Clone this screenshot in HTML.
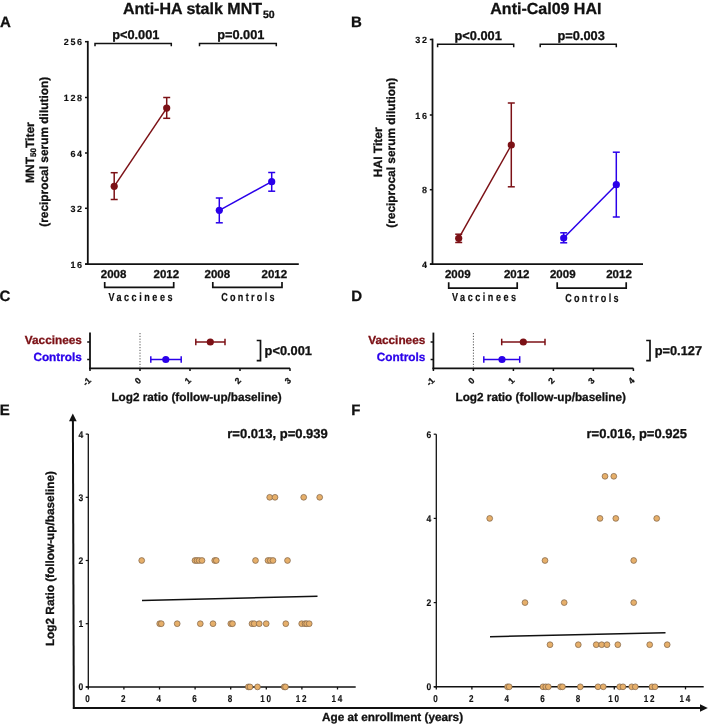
<!DOCTYPE html>
<html><head><meta charset="utf-8"><title>Figure</title>
<style>
html,body{margin:0;padding:0;background:#fff;}
body{width:708px;height:726px;overflow:hidden;}
svg{display:block;filter:blur(0.3px);font-family:"Liberation Sans",sans-serif;text-rendering:geometricPrecision;}
</style></head>
<body>
<svg width="708" height="726" viewBox="0 0 708 726">
<rect width="708" height="726" fill="#fff"/>
<text x="0.0" y="26.6" font-size="15.0" text-anchor="start" fill="#111" stroke="#111" stroke-width="0.3" font-weight="bold" >A</text>
<text x="351.0" y="26.9" font-size="15.0" text-anchor="start" fill="#111" stroke="#111" stroke-width="0.3" font-weight="bold" >B</text>
<text x="-0.4" y="301.4" font-size="15.0" text-anchor="start" fill="#111" stroke="#111" stroke-width="0.3" font-weight="bold" >C</text>
<text x="351.2" y="301.0" font-size="15.0" text-anchor="start" fill="#111" stroke="#111" stroke-width="0.3" font-weight="bold" >D</text>
<text x="-0.2" y="414.9" font-size="15.0" text-anchor="start" fill="#111" stroke="#111" stroke-width="0.3" font-weight="bold" >E</text>
<text x="351.2" y="415.1" font-size="15.0" text-anchor="start" fill="#111" stroke="#111" stroke-width="0.3" font-weight="bold" >F</text>
<text x="123" y="13.5" font-size="16" font-weight="bold" fill="#111" stroke="#111" stroke-width="0.3">Anti-HA stalk MNT<tspan font-size="10.5" dx="1" dy="4">50</tspan></text>
<text transform="translate(33.6,152.6) rotate(-90)" text-anchor="middle" font-size="12" font-weight="bold" fill="#111" stroke="#111" stroke-width="0.3">MNT<tspan font-size="8" dy="2.5">50</tspan><tspan dy="-2.5">Titer</tspan></text>
<text transform="translate(47.6,151.8) rotate(-90)" text-anchor="middle" font-size="11.9" font-weight="bold" fill="#111" stroke="#111" stroke-width="0.3">(reciprocal serum dilution)</text>
<line x1="87.8" y1="40.9" x2="87.8" y2="265" stroke="#111" stroke-width="1.8" />
<line x1="85.2" y1="264.1" x2="298.8" y2="264.1" stroke="#111" stroke-width="1.8" />
<line x1="85.0" y1="41.7" x2="87.8" y2="41.7" stroke="#111" stroke-width="1.5" />
<text x="83.69999999999999" y="45.2" font-size="9.0" text-anchor="end" fill="#111" stroke="#111" stroke-width="0.15" font-weight="bold" letter-spacing="1.6" >256</text>
<line x1="85.0" y1="97.5" x2="87.8" y2="97.5" stroke="#111" stroke-width="1.5" />
<text x="83.69999999999999" y="101.0" font-size="9.0" text-anchor="end" fill="#111" stroke="#111" stroke-width="0.15" font-weight="bold" letter-spacing="1.6" >128</text>
<line x1="85.0" y1="153" x2="87.8" y2="153" stroke="#111" stroke-width="1.5" />
<text x="83.69999999999999" y="156.5" font-size="9.0" text-anchor="end" fill="#111" stroke="#111" stroke-width="0.15" font-weight="bold" letter-spacing="1.6" >64</text>
<line x1="85.0" y1="208.3" x2="87.8" y2="208.3" stroke="#111" stroke-width="1.5" />
<text x="83.69999999999999" y="211.8" font-size="9.0" text-anchor="end" fill="#111" stroke="#111" stroke-width="0.15" font-weight="bold" letter-spacing="1.6" >32</text>
<line x1="85.0" y1="264.1" x2="87.8" y2="264.1" stroke="#111" stroke-width="1.5" />
<text x="83.69999999999999" y="267.6" font-size="9.0" text-anchor="end" fill="#111" stroke="#111" stroke-width="0.15" font-weight="bold" letter-spacing="1.6" >16</text>
<polyline points="95,46.3 95,43.4 171.3,43.4 171.3,46.3" fill="none" stroke="#111" stroke-width="1.5"/>
<polyline points="199.5,46.3 199.5,43.4 276.3,43.4 276.3,46.3" fill="none" stroke="#111" stroke-width="1.5"/>
<text x="135.8" y="38.6" font-size="12.8" text-anchor="middle" fill="#111" stroke="#111" stroke-width="0.3" font-weight="bold" >p&lt;0.001</text>
<text x="240.8" y="38.6" font-size="12.8" text-anchor="middle" fill="#111" stroke="#111" stroke-width="0.3" font-weight="bold" >p=0.001</text>
<line x1="114.2" y1="186.3" x2="166.7" y2="108.1" stroke="#7c1116" stroke-width="1.5" />
<line x1="114.2" y1="172.7" x2="114.2" y2="199.5" stroke="#7c1116" stroke-width="1.5" />
<line x1="110.7" y1="172.7" x2="117.7" y2="172.7" stroke="#7c1116" stroke-width="1.5" />
<line x1="110.7" y1="199.5" x2="117.7" y2="199.5" stroke="#7c1116" stroke-width="1.5" />
<line x1="166.7" y1="97.5" x2="166.7" y2="118.3" stroke="#7c1116" stroke-width="1.5" />
<line x1="163.2" y1="97.5" x2="170.2" y2="97.5" stroke="#7c1116" stroke-width="1.5" />
<line x1="163.2" y1="118.3" x2="170.2" y2="118.3" stroke="#7c1116" stroke-width="1.5" />
<circle cx="114.2" cy="186.3" r="3.6" fill="#7c1116"/>
<circle cx="166.7" cy="108.1" r="3.6" fill="#7c1116"/>
<line x1="219.3" y1="210.3" x2="271.7" y2="181.7" stroke="#2a00ea" stroke-width="1.5" />
<line x1="219.3" y1="198" x2="219.3" y2="222.8" stroke="#2a00ea" stroke-width="1.5" />
<line x1="215.8" y1="198" x2="222.8" y2="198" stroke="#2a00ea" stroke-width="1.5" />
<line x1="215.8" y1="222.8" x2="222.8" y2="222.8" stroke="#2a00ea" stroke-width="1.5" />
<line x1="271.7" y1="172.5" x2="271.7" y2="191.2" stroke="#2a00ea" stroke-width="1.5" />
<line x1="268.2" y1="172.5" x2="275.2" y2="172.5" stroke="#2a00ea" stroke-width="1.5" />
<line x1="268.2" y1="191.2" x2="275.2" y2="191.2" stroke="#2a00ea" stroke-width="1.5" />
<circle cx="219.3" cy="210.3" r="3.6" fill="#2a00ea"/>
<circle cx="271.7" cy="181.7" r="3.6" fill="#2a00ea"/>
<text x="113.6" y="277.9" font-size="11.5" text-anchor="middle" fill="#111" stroke="#111" stroke-width="0.3" font-weight="bold" >2008</text>
<text x="166.3" y="277.9" font-size="11.5" text-anchor="middle" fill="#111" stroke="#111" stroke-width="0.3" font-weight="bold" >2012</text>
<text x="217.3" y="277.9" font-size="11.5" text-anchor="middle" fill="#111" stroke="#111" stroke-width="0.3" font-weight="bold" >2008</text>
<text x="274.3" y="277.9" font-size="11.5" text-anchor="middle" fill="#111" stroke="#111" stroke-width="0.3" font-weight="bold" >2012</text>
<polyline points="104.7,282.0 104.7,287.3 173.7,287.3 173.7,282.0" fill="none" stroke="#111" stroke-width="1.7"/>
<polyline points="212.8,282.0 212.8,287.3 282,287.3 282,282.0" fill="none" stroke="#111" stroke-width="1.7"/>
<text transform="translate(108.4,300.7) scale(0.78,1)" text-anchor="start" font-size="11.6" fill="#111" stroke="#111" stroke-width="0.2" font-weight="bold" letter-spacing="3.26">Vaccinees</text>
<text transform="translate(221.2,300.8) scale(0.78,1)" text-anchor="start" font-size="11.6" fill="#111" stroke="#111" stroke-width="0.2" font-weight="bold" letter-spacing="2.96">Controls</text>
<text x="490.3" y="14.0" font-size="16" text-anchor="start" fill="#111" stroke="#111" stroke-width="0.3" font-weight="bold" >Anti-Cal09 HAI</text>
<text transform="translate(381.6,152.3) rotate(-90)" text-anchor="middle" font-size="12" font-weight="bold" fill="#111" stroke="#111" stroke-width="0.3">HAI Titer</text>
<text transform="translate(395.2,152.8) rotate(-90)" text-anchor="middle" font-size="11.9" font-weight="bold" fill="#111" stroke="#111" stroke-width="0.3">(reciprocal serum dilution)</text>
<line x1="432.5" y1="38.6" x2="432.5" y2="265" stroke="#111" stroke-width="1.8" />
<line x1="430" y1="264.2" x2="643" y2="264.2" stroke="#111" stroke-width="1.8" />
<line x1="429.8" y1="39.5" x2="432.5" y2="39.5" stroke="#111" stroke-width="1.5" />
<text x="428.5" y="43.0" font-size="9.0" text-anchor="end" fill="#111" stroke="#111" stroke-width="0.15" font-weight="bold" letter-spacing="1.6" >32</text>
<line x1="429.8" y1="115" x2="432.5" y2="115" stroke="#111" stroke-width="1.5" />
<text x="428.5" y="118.5" font-size="9.0" text-anchor="end" fill="#111" stroke="#111" stroke-width="0.15" font-weight="bold" letter-spacing="1.6" >16</text>
<line x1="429.8" y1="189.7" x2="432.5" y2="189.7" stroke="#111" stroke-width="1.5" />
<text x="428.5" y="193.2" font-size="9.0" text-anchor="end" fill="#111" stroke="#111" stroke-width="0.15" font-weight="bold" letter-spacing="1.6" >8</text>
<line x1="429.8" y1="264.2" x2="432.5" y2="264.2" stroke="#111" stroke-width="1.5" />
<text x="428.5" y="267.7" font-size="9.0" text-anchor="end" fill="#111" stroke="#111" stroke-width="0.15" font-weight="bold" letter-spacing="1.6" >4</text>
<polyline points="437.6,47.199999999999996 437.6,44.3 513.7,44.3 513.7,47.199999999999996" fill="none" stroke="#111" stroke-width="1.5"/>
<polyline points="540.2,47.199999999999996 540.2,44.3 616.3,44.3 616.3,47.199999999999996" fill="none" stroke="#111" stroke-width="1.5"/>
<text x="478.2" y="39.6" font-size="12.8" text-anchor="middle" fill="#111" stroke="#111" stroke-width="0.3" font-weight="bold" >p&lt;0.001</text>
<text x="581.2" y="39.6" font-size="12.8" text-anchor="middle" fill="#111" stroke="#111" stroke-width="0.3" font-weight="bold" >p=0.003</text>
<line x1="458.7" y1="238.3" x2="511.3" y2="145" stroke="#7c1116" stroke-width="1.5" />
<line x1="458.7" y1="234.2" x2="458.7" y2="242.5" stroke="#7c1116" stroke-width="1.5" />
<line x1="455.2" y1="234.2" x2="462.2" y2="234.2" stroke="#7c1116" stroke-width="1.5" />
<line x1="455.2" y1="242.5" x2="462.2" y2="242.5" stroke="#7c1116" stroke-width="1.5" />
<line x1="511.3" y1="103" x2="511.3" y2="186.8" stroke="#7c1116" stroke-width="1.5" />
<line x1="507.8" y1="103" x2="514.8" y2="103" stroke="#7c1116" stroke-width="1.5" />
<line x1="507.8" y1="186.8" x2="514.8" y2="186.8" stroke="#7c1116" stroke-width="1.5" />
<circle cx="458.7" cy="238.3" r="3.6" fill="#7c1116"/>
<circle cx="511.3" cy="145" r="3.6" fill="#7c1116"/>
<line x1="563.7" y1="238" x2="616.3" y2="184.7" stroke="#2a00ea" stroke-width="1.5" />
<line x1="563.7" y1="232.8" x2="563.7" y2="242.8" stroke="#2a00ea" stroke-width="1.5" />
<line x1="560.2" y1="232.8" x2="567.2" y2="232.8" stroke="#2a00ea" stroke-width="1.5" />
<line x1="560.2" y1="242.8" x2="567.2" y2="242.8" stroke="#2a00ea" stroke-width="1.5" />
<line x1="616.3" y1="152.2" x2="616.3" y2="217" stroke="#2a00ea" stroke-width="1.5" />
<line x1="612.8" y1="152.2" x2="619.8" y2="152.2" stroke="#2a00ea" stroke-width="1.5" />
<line x1="612.8" y1="217" x2="619.8" y2="217" stroke="#2a00ea" stroke-width="1.5" />
<circle cx="563.7" cy="238" r="3.6" fill="#2a00ea"/>
<circle cx="616.3" cy="184.7" r="3.6" fill="#2a00ea"/>
<text x="457.75" y="278.1" font-size="11.5" text-anchor="middle" fill="#111" stroke="#111" stroke-width="0.3" font-weight="bold" >2009</text>
<text x="516.7" y="278.1" font-size="11.5" text-anchor="middle" fill="#111" stroke="#111" stroke-width="0.3" font-weight="bold" >2012</text>
<text x="562.75" y="278.1" font-size="11.5" text-anchor="middle" fill="#111" stroke="#111" stroke-width="0.3" font-weight="bold" >2009</text>
<text x="619" y="278.1" font-size="11.5" text-anchor="middle" fill="#111" stroke="#111" stroke-width="0.3" font-weight="bold" >2012</text>
<polyline points="448.7,282.2 448.7,288.2 517.2,288.2 517.2,282.2" fill="none" stroke="#111" stroke-width="1.7"/>
<polyline points="557.2,282.2 557.2,288.2 626.2,288.2 626.2,282.2" fill="none" stroke="#111" stroke-width="1.7"/>
<text transform="translate(452.0,301.2) scale(0.78,1)" text-anchor="start" font-size="11.6" fill="#111" stroke="#111" stroke-width="0.2" font-weight="bold" letter-spacing="3.26">Vaccinees</text>
<text transform="translate(565.2,301.5) scale(0.78,1)" text-anchor="start" font-size="11.6" fill="#111" stroke="#111" stroke-width="0.2" font-weight="bold" letter-spacing="2.96">Controls</text>
<line x1="90" y1="332.6" x2="90" y2="369.2" stroke="#111" stroke-width="1.8" />
<line x1="89.1" y1="368.3" x2="290" y2="368.3" stroke="#111" stroke-width="1.8" />
<line x1="90" y1="368.3" x2="90" y2="371" stroke="#111" stroke-width="1.5" />
<text transform="translate(91.7,381) rotate(-45)" text-anchor="end" font-size="8.6" font-weight="bold" fill="#111" stroke="#111" stroke-width="0.3">-1</text>
<line x1="140" y1="368.3" x2="140" y2="371" stroke="#111" stroke-width="1.5" />
<text transform="translate(141.7,381) rotate(-45)" text-anchor="end" font-size="8.6" font-weight="bold" fill="#111" stroke="#111" stroke-width="0.3">0</text>
<line x1="190" y1="368.3" x2="190" y2="371" stroke="#111" stroke-width="1.5" />
<text transform="translate(191.7,381) rotate(-45)" text-anchor="end" font-size="8.6" font-weight="bold" fill="#111" stroke="#111" stroke-width="0.3">1</text>
<line x1="240" y1="368.3" x2="240" y2="371" stroke="#111" stroke-width="1.5" />
<text transform="translate(241.7,381) rotate(-45)" text-anchor="end" font-size="8.6" font-weight="bold" fill="#111" stroke="#111" stroke-width="0.3">2</text>
<line x1="290" y1="368.3" x2="290" y2="371" stroke="#111" stroke-width="1.5" />
<text transform="translate(291.7,381) rotate(-45)" text-anchor="end" font-size="8.6" font-weight="bold" fill="#111" stroke="#111" stroke-width="0.3">3</text>
<line x1="87.2" y1="342" x2="90" y2="342" stroke="#111" stroke-width="1.5" />
<line x1="87.2" y1="359.5" x2="90" y2="359.5" stroke="#111" stroke-width="1.5" />
<line x1="140" y1="333" x2="140" y2="367.4" stroke="#555" stroke-width="1" stroke-dasharray="1.2,1.6"/>
<text x="81.9" y="343.6" font-size="11.8" text-anchor="end" fill="#7c1116" stroke="#7c1116" stroke-width="0.3" font-weight="bold" >Vaccinees</text>
<text x="81.9" y="361.1" font-size="11.8" text-anchor="end" fill="#2a00ea" stroke="#2a00ea" stroke-width="0.3" font-weight="bold" >Controls</text>
<line x1="195.8" y1="342" x2="225" y2="342" stroke="#7c1116" stroke-width="1.5" />
<line x1="195.8" y1="338.7" x2="195.8" y2="345.3" stroke="#7c1116" stroke-width="1.5" />
<line x1="225" y1="338.7" x2="225" y2="345.3" stroke="#7c1116" stroke-width="1.5" />
<circle cx="210.3" cy="342" r="3.6" fill="#7c1116"/>
<line x1="150.8" y1="359.5" x2="181.2" y2="359.5" stroke="#2a00ea" stroke-width="1.5" />
<line x1="150.8" y1="356.2" x2="150.8" y2="362.8" stroke="#2a00ea" stroke-width="1.5" />
<line x1="181.2" y1="356.2" x2="181.2" y2="362.8" stroke="#2a00ea" stroke-width="1.5" />
<circle cx="165.8" cy="359.5" r="3.6" fill="#2a00ea"/>
<polyline points="256.7,340.5 260.5,340.5 260.5,360.6 256.7,360.6" fill="none" stroke="#111" stroke-width="1.7"/>
<text x="264.6" y="355" font-size="12.8" text-anchor="start" fill="#111" stroke="#111" stroke-width="0.3" font-weight="bold" >p&lt;0.001</text>
<text x="111.4" y="400.8" font-size="11.75" text-anchor="start" fill="#111" stroke="#111" stroke-width="0.3" font-weight="bold" >Log2 ratio (follow-up/baseline)</text>
<line x1="433.4" y1="332.6" x2="433.4" y2="369.2" stroke="#111" stroke-width="1.8" />
<line x1="432.5" y1="368.3" x2="633.4" y2="368.3" stroke="#111" stroke-width="1.8" />
<line x1="433.4" y1="368.3" x2="433.4" y2="371" stroke="#111" stroke-width="1.5" />
<text transform="translate(435.09999999999997,381) rotate(-45)" text-anchor="end" font-size="8.6" font-weight="bold" fill="#111" stroke="#111" stroke-width="0.3">-1</text>
<line x1="473.4" y1="368.3" x2="473.4" y2="371" stroke="#111" stroke-width="1.5" />
<text transform="translate(475.09999999999997,381) rotate(-45)" text-anchor="end" font-size="8.6" font-weight="bold" fill="#111" stroke="#111" stroke-width="0.3">0</text>
<line x1="513.4" y1="368.3" x2="513.4" y2="371" stroke="#111" stroke-width="1.5" />
<text transform="translate(515.1,381) rotate(-45)" text-anchor="end" font-size="8.6" font-weight="bold" fill="#111" stroke="#111" stroke-width="0.3">1</text>
<line x1="553.4" y1="368.3" x2="553.4" y2="371" stroke="#111" stroke-width="1.5" />
<text transform="translate(555.1,381) rotate(-45)" text-anchor="end" font-size="8.6" font-weight="bold" fill="#111" stroke="#111" stroke-width="0.3">2</text>
<line x1="593.4" y1="368.3" x2="593.4" y2="371" stroke="#111" stroke-width="1.5" />
<text transform="translate(595.1,381) rotate(-45)" text-anchor="end" font-size="8.6" font-weight="bold" fill="#111" stroke="#111" stroke-width="0.3">3</text>
<line x1="633.4" y1="368.3" x2="633.4" y2="371" stroke="#111" stroke-width="1.5" />
<text transform="translate(635.1,381) rotate(-45)" text-anchor="end" font-size="8.6" font-weight="bold" fill="#111" stroke="#111" stroke-width="0.3">4</text>
<line x1="430.59999999999997" y1="342" x2="433.4" y2="342" stroke="#111" stroke-width="1.5" />
<line x1="430.59999999999997" y1="359.5" x2="433.4" y2="359.5" stroke="#111" stroke-width="1.5" />
<line x1="473.4" y1="333" x2="473.4" y2="367.4" stroke="#555" stroke-width="1" stroke-dasharray="1.2,1.6"/>
<text x="425.3" y="343.6" font-size="11.8" text-anchor="end" fill="#7c1116" stroke="#7c1116" stroke-width="0.3" font-weight="bold" >Vaccinees</text>
<text x="425.3" y="361.1" font-size="11.8" text-anchor="end" fill="#2a00ea" stroke="#2a00ea" stroke-width="0.3" font-weight="bold" >Controls</text>
<line x1="501.7" y1="342" x2="545" y2="342" stroke="#7c1116" stroke-width="1.5" />
<line x1="501.7" y1="338.7" x2="501.7" y2="345.3" stroke="#7c1116" stroke-width="1.5" />
<line x1="545" y1="338.7" x2="545" y2="345.3" stroke="#7c1116" stroke-width="1.5" />
<circle cx="523.3" cy="342" r="3.6" fill="#7c1116"/>
<line x1="483.8" y1="359.5" x2="519.7" y2="359.5" stroke="#2a00ea" stroke-width="1.5" />
<line x1="483.8" y1="356.2" x2="483.8" y2="362.8" stroke="#2a00ea" stroke-width="1.5" />
<line x1="519.7" y1="356.2" x2="519.7" y2="362.8" stroke="#2a00ea" stroke-width="1.5" />
<circle cx="502" cy="359.5" r="3.6" fill="#2a00ea"/>
<polyline points="646.2,340.5 650,340.5 650,360.6 646.2,360.6" fill="none" stroke="#111" stroke-width="1.7"/>
<text x="654.7" y="355" font-size="12.8" text-anchor="start" fill="#111" stroke="#111" stroke-width="0.3" font-weight="bold" >p=0.127</text>
<text x="455.5" y="400.8" font-size="11.75" text-anchor="start" fill="#111" stroke="#111" stroke-width="0.3" font-weight="bold" >Log2 ratio (follow-up/baseline)</text>
<line x1="73.8" y1="708.9" x2="72.9" y2="420" stroke="#111" stroke-width="2" />
<polygon points="72.8,413.6 69.0,421.2 76.7,421.2" fill="#111"/>
<line x1="72.9" y1="708" x2="701" y2="708" stroke="#111" stroke-width="2" />
<polygon points="707.8,708 700,704.3 700,711.8" fill="#111"/>
<text x="322" y="721.3" font-size="11.75" text-anchor="start" fill="#111" stroke="#111" stroke-width="0.3" font-weight="bold" >Age at enrollment (years)</text>
<text transform="translate(54.4,558.6) rotate(-90)" text-anchor="middle" font-size="11.8" font-weight="bold" fill="#111" stroke="#111" stroke-width="0.3">Log2 Ratio (follow-up/baseline)</text>
<line x1="88.3" y1="434.09999999999997" x2="88.3" y2="687.5" stroke="#111" stroke-width="1.3" />
<line x1="85.8" y1="686.9" x2="355.7" y2="686.9" stroke="#111" stroke-width="1.5" />
<line x1="85.7" y1="686.9" x2="88.3" y2="686.9" stroke="#111" stroke-width="1.2" />
<text transform="translate(83.15,690.4) scale(0.89,1)" text-anchor="end" font-size="9.6" fill="#111" stroke="#111" stroke-width="0.15" font-weight="bold" letter-spacing="0">0</text>
<line x1="85.7" y1="623.6999999999999" x2="88.3" y2="623.6999999999999" stroke="#111" stroke-width="1.2" />
<text transform="translate(83.15,627.2) scale(0.89,1)" text-anchor="end" font-size="9.6" fill="#111" stroke="#111" stroke-width="0.15" font-weight="bold" letter-spacing="0">1</text>
<line x1="85.7" y1="560.5" x2="88.3" y2="560.5" stroke="#111" stroke-width="1.2" />
<text transform="translate(83.15,564.0) scale(0.89,1)" text-anchor="end" font-size="9.6" fill="#111" stroke="#111" stroke-width="0.15" font-weight="bold" letter-spacing="0">2</text>
<line x1="85.7" y1="497.29999999999995" x2="88.3" y2="497.29999999999995" stroke="#111" stroke-width="1.2" />
<text transform="translate(83.15,500.8) scale(0.89,1)" text-anchor="end" font-size="9.6" fill="#111" stroke="#111" stroke-width="0.15" font-weight="bold" letter-spacing="0">3</text>
<line x1="85.7" y1="434.09999999999997" x2="88.3" y2="434.09999999999997" stroke="#111" stroke-width="1.2" />
<text transform="translate(83.15,437.6) scale(0.89,1)" text-anchor="end" font-size="9.6" fill="#111" stroke="#111" stroke-width="0.15" font-weight="bold" letter-spacing="0">4</text>
<line x1="88.3" y1="686.9" x2="88.3" y2="689.5" stroke="#111" stroke-width="1.3" />
<text transform="translate(88.49,702.3) scale(0.81,1)" text-anchor="middle" font-size="10.0" fill="#111" stroke="#111" stroke-width="0.15" font-weight="bold" letter-spacing="2.2">0</text>
<line x1="123.9" y1="686.9" x2="123.9" y2="689.5" stroke="#111" stroke-width="1.3" />
<text transform="translate(124.09,702.3) scale(0.81,1)" text-anchor="middle" font-size="10.0" fill="#111" stroke="#111" stroke-width="0.15" font-weight="bold" letter-spacing="2.2">2</text>
<line x1="159.5" y1="686.9" x2="159.5" y2="689.5" stroke="#111" stroke-width="1.3" />
<text transform="translate(159.69,702.3) scale(0.81,1)" text-anchor="middle" font-size="10.0" fill="#111" stroke="#111" stroke-width="0.15" font-weight="bold" letter-spacing="2.2">4</text>
<line x1="195.10000000000002" y1="686.9" x2="195.10000000000002" y2="689.5" stroke="#111" stroke-width="1.3" />
<text transform="translate(195.29,702.3) scale(0.81,1)" text-anchor="middle" font-size="10.0" fill="#111" stroke="#111" stroke-width="0.15" font-weight="bold" letter-spacing="2.2">6</text>
<line x1="230.7" y1="686.9" x2="230.7" y2="689.5" stroke="#111" stroke-width="1.3" />
<text transform="translate(230.89,702.3) scale(0.81,1)" text-anchor="middle" font-size="10.0" fill="#111" stroke="#111" stroke-width="0.15" font-weight="bold" letter-spacing="2.2">8</text>
<line x1="266.3" y1="686.9" x2="266.3" y2="689.5" stroke="#111" stroke-width="1.3" />
<text transform="translate(266.49,702.3) scale(0.81,1)" text-anchor="middle" font-size="10.0" fill="#111" stroke="#111" stroke-width="0.15" font-weight="bold" letter-spacing="2.2">10</text>
<line x1="301.90000000000003" y1="686.9" x2="301.90000000000003" y2="689.5" stroke="#111" stroke-width="1.3" />
<text transform="translate(302.09,702.3) scale(0.81,1)" text-anchor="middle" font-size="10.0" fill="#111" stroke="#111" stroke-width="0.15" font-weight="bold" letter-spacing="2.2">12</text>
<line x1="337.5" y1="686.9" x2="337.5" y2="689.5" stroke="#111" stroke-width="1.3" />
<text transform="translate(337.69,702.3) scale(0.81,1)" text-anchor="middle" font-size="10.0" fill="#111" stroke="#111" stroke-width="0.15" font-weight="bold" letter-spacing="2.2">14</text>
<line x1="142" y1="600.5" x2="317.5" y2="596.2" stroke="#111" stroke-width="1.4" />
<circle cx="269.7" cy="497.29999999999995" r="2.9" fill="#e6af6a" stroke="#7d6247" stroke-width="0.7"/>
<circle cx="275" cy="497.29999999999995" r="2.9" fill="#e6af6a" stroke="#7d6247" stroke-width="0.7"/>
<circle cx="303.7" cy="497.29999999999995" r="2.9" fill="#e6af6a" stroke="#7d6247" stroke-width="0.7"/>
<circle cx="319.7" cy="497.29999999999995" r="2.9" fill="#e6af6a" stroke="#7d6247" stroke-width="0.7"/>
<circle cx="141.7" cy="560.5" r="2.9" fill="#e6af6a" stroke="#7d6247" stroke-width="0.7"/>
<circle cx="195" cy="560.5" r="2.9" fill="#e6af6a" stroke="#7d6247" stroke-width="0.7"/>
<circle cx="197" cy="560.5" r="2.9" fill="#e6af6a" stroke="#7d6247" stroke-width="0.7"/>
<circle cx="199.2" cy="560.5" r="2.9" fill="#e6af6a" stroke="#7d6247" stroke-width="0.7"/>
<circle cx="202" cy="560.5" r="2.9" fill="#e6af6a" stroke="#7d6247" stroke-width="0.7"/>
<circle cx="214.7" cy="560.5" r="2.9" fill="#e6af6a" stroke="#7d6247" stroke-width="0.7"/>
<circle cx="216.3" cy="560.5" r="2.9" fill="#e6af6a" stroke="#7d6247" stroke-width="0.7"/>
<circle cx="255.5" cy="560.5" r="2.9" fill="#e6af6a" stroke="#7d6247" stroke-width="0.7"/>
<circle cx="268" cy="560.5" r="2.9" fill="#e6af6a" stroke="#7d6247" stroke-width="0.7"/>
<circle cx="270.3" cy="560.5" r="2.9" fill="#e6af6a" stroke="#7d6247" stroke-width="0.7"/>
<circle cx="273" cy="560.5" r="2.9" fill="#e6af6a" stroke="#7d6247" stroke-width="0.7"/>
<circle cx="287.5" cy="560.5" r="2.9" fill="#e6af6a" stroke="#7d6247" stroke-width="0.7"/>
<circle cx="159.7" cy="623.6999999999999" r="2.9" fill="#e6af6a" stroke="#7d6247" stroke-width="0.7"/>
<circle cx="161.3" cy="623.6999999999999" r="2.9" fill="#e6af6a" stroke="#7d6247" stroke-width="0.7"/>
<circle cx="177.2" cy="623.6999999999999" r="2.9" fill="#e6af6a" stroke="#7d6247" stroke-width="0.7"/>
<circle cx="200.3" cy="623.6999999999999" r="2.9" fill="#e6af6a" stroke="#7d6247" stroke-width="0.7"/>
<circle cx="213" cy="623.6999999999999" r="2.9" fill="#e6af6a" stroke="#7d6247" stroke-width="0.7"/>
<circle cx="230.8" cy="623.6999999999999" r="2.9" fill="#e6af6a" stroke="#7d6247" stroke-width="0.7"/>
<circle cx="232.5" cy="623.6999999999999" r="2.9" fill="#e6af6a" stroke="#7d6247" stroke-width="0.7"/>
<circle cx="252" cy="623.6999999999999" r="2.9" fill="#e6af6a" stroke="#7d6247" stroke-width="0.7"/>
<circle cx="254.2" cy="623.6999999999999" r="2.9" fill="#e6af6a" stroke="#7d6247" stroke-width="0.7"/>
<circle cx="259.2" cy="623.6999999999999" r="2.9" fill="#e6af6a" stroke="#7d6247" stroke-width="0.7"/>
<circle cx="266.2" cy="623.6999999999999" r="2.9" fill="#e6af6a" stroke="#7d6247" stroke-width="0.7"/>
<circle cx="285.8" cy="623.6999999999999" r="2.9" fill="#e6af6a" stroke="#7d6247" stroke-width="0.7"/>
<circle cx="301.7" cy="623.6999999999999" r="2.9" fill="#e6af6a" stroke="#7d6247" stroke-width="0.7"/>
<circle cx="305" cy="623.6999999999999" r="2.9" fill="#e6af6a" stroke="#7d6247" stroke-width="0.7"/>
<circle cx="306.7" cy="623.6999999999999" r="2.9" fill="#e6af6a" stroke="#7d6247" stroke-width="0.7"/>
<circle cx="309.2" cy="623.6999999999999" r="2.9" fill="#e6af6a" stroke="#7d6247" stroke-width="0.7"/>
<circle cx="248.3" cy="686.9" r="2.9" fill="#e6af6a" stroke="#7d6247" stroke-width="0.7"/>
<circle cx="250" cy="686.9" r="2.9" fill="#e6af6a" stroke="#7d6247" stroke-width="0.7"/>
<circle cx="257.5" cy="686.9" r="2.9" fill="#e6af6a" stroke="#7d6247" stroke-width="0.7"/>
<circle cx="284.2" cy="686.9" r="2.9" fill="#e6af6a" stroke="#7d6247" stroke-width="0.7"/>
<circle cx="285.5" cy="686.9" r="2.9" fill="#e6af6a" stroke="#7d6247" stroke-width="0.7"/>
<text x="227.3" y="438.3" font-size="13" text-anchor="start" fill="#111" stroke="#111" stroke-width="0.3" font-weight="bold" >r=0.013, p=0.939</text>
<line x1="436.3" y1="434.19999999999993" x2="436.3" y2="687.4" stroke="#111" stroke-width="1.3" />
<line x1="433.8" y1="686.8" x2="703.7" y2="686.8" stroke="#111" stroke-width="1.5" />
<line x1="433.7" y1="686.8" x2="436.3" y2="686.8" stroke="#111" stroke-width="1.2" />
<text transform="translate(431.15,690.3) scale(0.89,1)" text-anchor="end" font-size="9.6" fill="#111" stroke="#111" stroke-width="0.15" font-weight="bold" letter-spacing="0">0</text>
<line x1="433.7" y1="602.5999999999999" x2="436.3" y2="602.5999999999999" stroke="#111" stroke-width="1.2" />
<text transform="translate(431.15,606.1) scale(0.89,1)" text-anchor="end" font-size="9.6" fill="#111" stroke="#111" stroke-width="0.15" font-weight="bold" letter-spacing="0">2</text>
<line x1="433.7" y1="518.4" x2="436.3" y2="518.4" stroke="#111" stroke-width="1.2" />
<text transform="translate(431.15,521.9) scale(0.89,1)" text-anchor="end" font-size="9.6" fill="#111" stroke="#111" stroke-width="0.15" font-weight="bold" letter-spacing="0">4</text>
<line x1="433.7" y1="434.19999999999993" x2="436.3" y2="434.19999999999993" stroke="#111" stroke-width="1.2" />
<text transform="translate(431.15,437.7) scale(0.89,1)" text-anchor="end" font-size="9.6" fill="#111" stroke="#111" stroke-width="0.15" font-weight="bold" letter-spacing="0">6</text>
<line x1="436.3" y1="686.8" x2="436.3" y2="689.4" stroke="#111" stroke-width="1.3" />
<text transform="translate(436.49,702.3) scale(0.81,1)" text-anchor="middle" font-size="10.0" fill="#111" stroke="#111" stroke-width="0.15" font-weight="bold" letter-spacing="2.2">0</text>
<line x1="471.90000000000003" y1="686.8" x2="471.90000000000003" y2="689.4" stroke="#111" stroke-width="1.3" />
<text transform="translate(472.09,702.3) scale(0.81,1)" text-anchor="middle" font-size="10.0" fill="#111" stroke="#111" stroke-width="0.15" font-weight="bold" letter-spacing="2.2">2</text>
<line x1="507.5" y1="686.8" x2="507.5" y2="689.4" stroke="#111" stroke-width="1.3" />
<text transform="translate(507.69,702.3) scale(0.81,1)" text-anchor="middle" font-size="10.0" fill="#111" stroke="#111" stroke-width="0.15" font-weight="bold" letter-spacing="2.2">4</text>
<line x1="543.1" y1="686.8" x2="543.1" y2="689.4" stroke="#111" stroke-width="1.3" />
<text transform="translate(543.29,702.3) scale(0.81,1)" text-anchor="middle" font-size="10.0" fill="#111" stroke="#111" stroke-width="0.15" font-weight="bold" letter-spacing="2.2">6</text>
<line x1="578.7" y1="686.8" x2="578.7" y2="689.4" stroke="#111" stroke-width="1.3" />
<text transform="translate(578.89,702.3) scale(0.81,1)" text-anchor="middle" font-size="10.0" fill="#111" stroke="#111" stroke-width="0.15" font-weight="bold" letter-spacing="2.2">8</text>
<line x1="614.3" y1="686.8" x2="614.3" y2="689.4" stroke="#111" stroke-width="1.3" />
<text transform="translate(614.49,702.3) scale(0.81,1)" text-anchor="middle" font-size="10.0" fill="#111" stroke="#111" stroke-width="0.15" font-weight="bold" letter-spacing="2.2">10</text>
<line x1="649.9000000000001" y1="686.8" x2="649.9000000000001" y2="689.4" stroke="#111" stroke-width="1.3" />
<text transform="translate(650.09,702.3) scale(0.81,1)" text-anchor="middle" font-size="10.0" fill="#111" stroke="#111" stroke-width="0.15" font-weight="bold" letter-spacing="2.2">12</text>
<line x1="685.5" y1="686.8" x2="685.5" y2="689.4" stroke="#111" stroke-width="1.3" />
<text transform="translate(685.69,702.3) scale(0.81,1)" text-anchor="middle" font-size="10.0" fill="#111" stroke="#111" stroke-width="0.15" font-weight="bold" letter-spacing="2.2">14</text>
<line x1="490" y1="636.7" x2="665.5" y2="632.8" stroke="#111" stroke-width="1.4" />
<circle cx="605" cy="476.29999999999995" r="2.9" fill="#e6af6a" stroke="#7d6247" stroke-width="0.7"/>
<circle cx="613.8" cy="476.29999999999995" r="2.9" fill="#e6af6a" stroke="#7d6247" stroke-width="0.7"/>
<circle cx="489.7" cy="518.4" r="2.9" fill="#e6af6a" stroke="#7d6247" stroke-width="0.7"/>
<circle cx="600" cy="518.4" r="2.9" fill="#e6af6a" stroke="#7d6247" stroke-width="0.7"/>
<circle cx="615.8" cy="518.4" r="2.9" fill="#e6af6a" stroke="#7d6247" stroke-width="0.7"/>
<circle cx="656.7" cy="518.4" r="2.9" fill="#e6af6a" stroke="#7d6247" stroke-width="0.7"/>
<circle cx="545" cy="560.5" r="2.9" fill="#e6af6a" stroke="#7d6247" stroke-width="0.7"/>
<circle cx="633.7" cy="560.5" r="2.9" fill="#e6af6a" stroke="#7d6247" stroke-width="0.7"/>
<circle cx="525" cy="602.5999999999999" r="2.9" fill="#e6af6a" stroke="#7d6247" stroke-width="0.7"/>
<circle cx="564.2" cy="602.5999999999999" r="2.9" fill="#e6af6a" stroke="#7d6247" stroke-width="0.7"/>
<circle cx="633.7" cy="602.5999999999999" r="2.9" fill="#e6af6a" stroke="#7d6247" stroke-width="0.7"/>
<circle cx="550" cy="644.6999999999999" r="2.9" fill="#e6af6a" stroke="#7d6247" stroke-width="0.7"/>
<circle cx="578.3" cy="644.6999999999999" r="2.9" fill="#e6af6a" stroke="#7d6247" stroke-width="0.7"/>
<circle cx="596.2" cy="644.6999999999999" r="2.9" fill="#e6af6a" stroke="#7d6247" stroke-width="0.7"/>
<circle cx="601.7" cy="644.6999999999999" r="2.9" fill="#e6af6a" stroke="#7d6247" stroke-width="0.7"/>
<circle cx="607" cy="644.6999999999999" r="2.9" fill="#e6af6a" stroke="#7d6247" stroke-width="0.7"/>
<circle cx="617.8" cy="644.6999999999999" r="2.9" fill="#e6af6a" stroke="#7d6247" stroke-width="0.7"/>
<circle cx="649.7" cy="644.6999999999999" r="2.9" fill="#e6af6a" stroke="#7d6247" stroke-width="0.7"/>
<circle cx="667.2" cy="644.6999999999999" r="2.9" fill="#e6af6a" stroke="#7d6247" stroke-width="0.7"/>
<circle cx="507.5" cy="686.8" r="2.9" fill="#e6af6a" stroke="#7d6247" stroke-width="0.7"/>
<circle cx="509.2" cy="686.8" r="2.9" fill="#e6af6a" stroke="#7d6247" stroke-width="0.7"/>
<circle cx="543" cy="686.8" r="2.9" fill="#e6af6a" stroke="#7d6247" stroke-width="0.7"/>
<circle cx="545.8" cy="686.8" r="2.9" fill="#e6af6a" stroke="#7d6247" stroke-width="0.7"/>
<circle cx="548.3" cy="686.8" r="2.9" fill="#e6af6a" stroke="#7d6247" stroke-width="0.7"/>
<circle cx="560.5" cy="686.8" r="2.9" fill="#e6af6a" stroke="#7d6247" stroke-width="0.7"/>
<circle cx="562.5" cy="686.8" r="2.9" fill="#e6af6a" stroke="#7d6247" stroke-width="0.7"/>
<circle cx="580.3" cy="686.8" r="2.9" fill="#e6af6a" stroke="#7d6247" stroke-width="0.7"/>
<circle cx="598" cy="686.8" r="2.9" fill="#e6af6a" stroke="#7d6247" stroke-width="0.7"/>
<circle cx="603.3" cy="686.8" r="2.9" fill="#e6af6a" stroke="#7d6247" stroke-width="0.7"/>
<circle cx="619.7" cy="686.8" r="2.9" fill="#e6af6a" stroke="#7d6247" stroke-width="0.7"/>
<circle cx="623" cy="686.8" r="2.9" fill="#e6af6a" stroke="#7d6247" stroke-width="0.7"/>
<circle cx="631.7" cy="686.8" r="2.9" fill="#e6af6a" stroke="#7d6247" stroke-width="0.7"/>
<circle cx="635.3" cy="686.8" r="2.9" fill="#e6af6a" stroke="#7d6247" stroke-width="0.7"/>
<circle cx="652" cy="686.8" r="2.9" fill="#e6af6a" stroke="#7d6247" stroke-width="0.7"/>
<circle cx="655" cy="686.8" r="2.9" fill="#e6af6a" stroke="#7d6247" stroke-width="0.7"/>
<text x="586.5" y="438.3" font-size="13" text-anchor="start" fill="#111" stroke="#111" stroke-width="0.3" font-weight="bold" >r=0.016, p=0.925</text>
</svg>
</body></html>
